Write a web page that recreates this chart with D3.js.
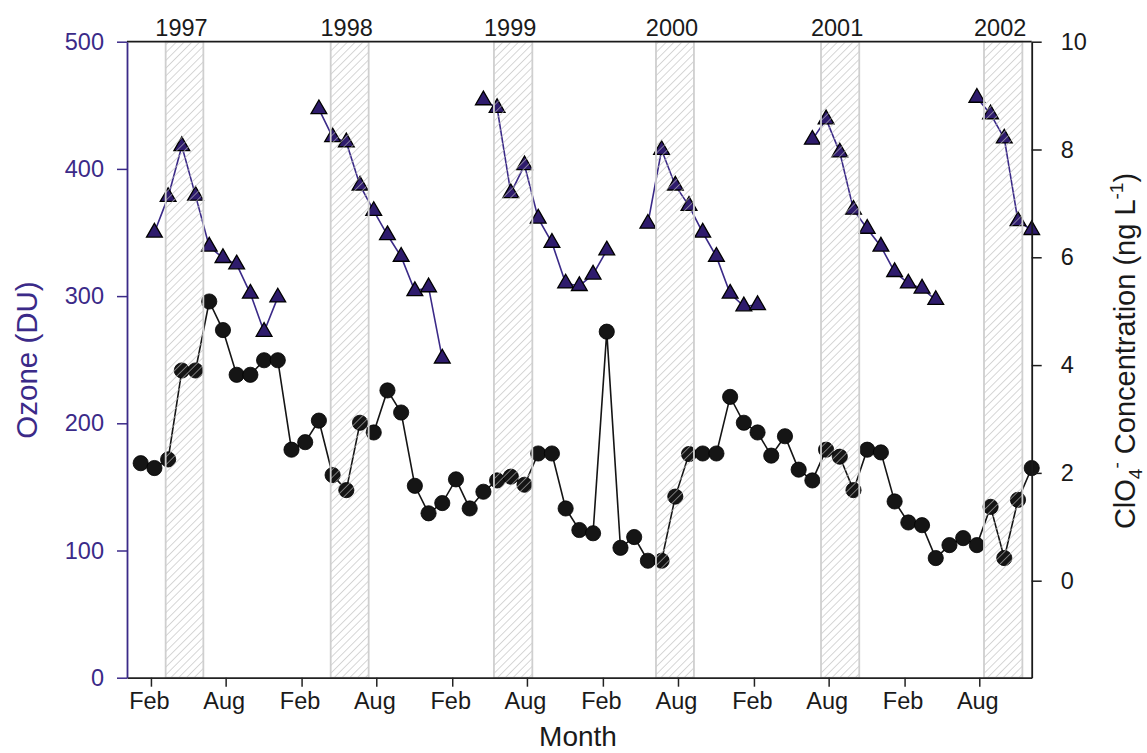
<!DOCTYPE html>
<html>
<head>
<meta charset="utf-8">
<script src="https://cdn.jsdelivr.net/npm/d3@7"></script>
<style>
  html, body { margin: 0; padding: 0; background: #ffffff; }
  svg { display: block; font-family: "Liberation Sans", Arial, sans-serif; }
</style>
</head>
<body>
<svg id="chart" width="1147" height="753"></svg>
<script>
// Monthly samples, index 0 = first month of the record (66 months)
const perchlorate = [
  2.18, 2.09, 2.25, 3.90, 3.90, 5.18, 4.65, 3.82, 3.82, 4.09, 4.09, 2.43,
  2.57, 2.97, 1.96, 1.68, 2.93, 2.75, 3.53, 3.12, 1.76, 1.25, 1.44, 1.88,
  1.34, 1.65, 1.86, 1.93, 1.78, 2.36, 2.36, 1.34, 0.94, 0.88, 4.62, 0.61,
  0.81, 0.37, 0.37, 1.56, 2.35, 2.36, 2.36, 3.41, 2.93, 2.75, 2.32, 2.68,
  2.06, 1.86, 2.43, 2.30, 1.68, 2.43, 2.38, 1.47, 1.08, 1.03, 0.42, 0.66,
  0.79, 0.66, 1.37, 0.42, 1.50, 2.09
];

// Total column ozone (DU), null where no value was recorded
const ozone = [
  null, 350, 378, 418, 379, 339, 330, 325, 302, 272, 299, null,
  null, 447, 425, 421, 387, 367, 348, 331, 304, 307, 251, null,
  null, 454, 448, 381, 403, 361, 342, 310, 308, 317, 336, null,
  null, 357, 415, 387, 371, 350, 331, 302, 292, 293, null, null,
  null, 423, 439, 413, 368, 353, 339, 319, 310, 306, 297, null,
  null, 456, 443, 424, 359, 352
];

// Shaded seasons (in month-index units) and their year labels
const seasonYears = ["1997", "1998", "1999", "2000", "2001", "2002"];
const seasonStart = [1.82, 13.86, 25.77, 37.59, 49.63, 61.52];
const seasonEnd   = [4.57, 16.63, 28.57, 40.36, 52.42, 64.32];

// Month axis ticks
const monthTicks = [
  "1997-02-01", "1997-08-01", "1998-02-01", "1998-08-01", "1999-02-01", "1999-08-01",
  "2000-02-01", "2000-08-01", "2001-02-01", "2001-08-01", "2002-02-01", "2002-08-01"
];
const ozoneTicks = [0, 100, 200, 300, 400, 500];
const clo4Ticks = [0, 2, 4, 6, 8, 10];

const purple = "#3b2a88";
const triFill = "#2e1b6c";

const svg = d3.select("#chart");
const L = 127, R = 1031.7, T = 41.7, B = 677.7;

const x = d3.scaleLinear().domain([-1, 65]).range([L, R]);
const xMonth = d3.scaleTime()
  .domain([new Date(1996, 11, 5), new Date(2002, 11, 6)])
  .range([L, R]);
const yOz = d3.scaleLinear().domain([0, 500]).range([B, T]);
const yCl = d3.scaleLinear().domain([-1.8, 10]).range([B, T]);

// hatch pattern for the shaded seasons
const defs = svg.append("defs");
defs.append("pattern")
  .attr("id", "hatch")
  .attr("patternUnits", "userSpaceOnUse")
  .attr("width", 5.5).attr("height", 5.5)
  .attr("patternTransform", "rotate(45)")
  .append("line")
  .attr("x1", 0).attr("y1", 0).attr("x2", 0).attr("y2", 5.5)
  .attr("stroke", "#bcbcbc").attr("stroke-width", 1.2);

// perchlorate series
const clLine = d3.line().x((d, i) => x(i)).y(d => yCl(d));
svg.append("path")
  .datum(perchlorate)
  .attr("d", clLine)
  .attr("fill", "none").attr("stroke", "#151515").attr("stroke-width", 1.6);
svg.append("g").selectAll("circle")
  .data(perchlorate)
  .join("circle")
  .attr("cx", (d, i) => x(i))
  .attr("cy", d => yCl(d))
  .attr("r", 7.6)
  .attr("fill", "#151515").attr("stroke", "#000").attr("stroke-width", 0.8);

// ozone series
const ozLine = d3.line().defined(d => d !== null).x((d, i) => x(i)).y(d => yOz(d));
svg.append("path")
  .datum(ozone)
  .attr("d", ozLine)
  .attr("fill", "none").attr("stroke", purple).attr("stroke-width", 1.6);
const tri = d3.symbol().type(d3.symbolTriangle).size(108);
svg.append("g").selectAll("path")
  .data(ozone.map((v, i) => ({ v, i })).filter(d => d.v !== null))
  .join("path")
  .attr("d", tri)
  .attr("transform", d => `translate(${x(d.i)},${yOz(d.v)})`)
  .attr("fill", triFill).attr("stroke", "#000").attr("stroke-width", 1.3)
  .attr("stroke-linejoin", "miter");

// shaded seasons drawn over the data
const seasons = seasonYears.map((y, k) => ({ y, s: seasonStart[k], e: seasonEnd[k] }));
svg.append("g").selectAll("rect")
  .data(seasons)
  .join("rect")
  .attr("x", d => x(d.s))
  .attr("y", T)
  .attr("width", d => x(d.e) - x(d.s))
  .attr("height", B - T)
  .attr("fill", "url(#hatch)")
  .attr("stroke", "#cfcfcf").attr("stroke-width", 1.8);

svg.append("g").selectAll("text")
  .data(seasons)
  .join("text")
  .attr("x", d => (x(d.s) + x(d.e)) / 2 - 3)
  .attr("y", 35.5)
  .attr("text-anchor", "middle")
  .attr("font-size", 23.5)
  .attr("fill", "#1a1a1a")
  .text(d => d.y);

// frame: top line
svg.append("line")
  .attr("x1", L).attr("x2", R).attr("y1", T).attr("y2", T)
  .attr("stroke", "#1a1a1a").attr("stroke-width", 1.8);

// bottom (month) axis
const gx = svg.append("g")
  .attr("transform", `translate(0,${B})`)
  .call(d3.axisBottom(xMonth)
    .tickValues(monthTicks.map(s => new Date(s + "T00:00:00")))
    .tickFormat(d3.timeFormat("%b"))
    .tickSize(9).tickPadding(6).tickSizeOuter(0));
gx.select(".domain").attr("stroke", "#222").attr("stroke-width", 1.8);
gx.selectAll(".tick line").attr("stroke", "#222").attr("stroke-width", 1.5);
gx.selectAll(".tick text").attr("font-size", 23.5).attr("fill", "#1a1a1a")
  .attr("font-family", "'Liberation Sans', Arial, sans-serif").attr("dx", -2);

// left (ozone) axis
const gl = svg.append("g")
  .attr("transform", `translate(${L},0)`)
  .call(d3.axisLeft(yOz).tickValues(ozoneTicks).tickSize(10).tickPadding(13).tickSizeOuter(0));
gl.select(".domain").attr("stroke", purple).attr("stroke-width", 1.8);
gl.selectAll(".tick line").attr("stroke", purple).attr("stroke-width", 1.5);
gl.selectAll(".tick text").attr("font-size", 23.5).attr("fill", purple)
  .attr("font-family", "'Liberation Sans', Arial, sans-serif");

// right (perchlorate) axis
const gr = svg.append("g")
  .attr("transform", `translate(${R},0)`)
  .call(d3.axisRight(yCl).tickValues(clo4Ticks).tickSize(10).tickPadding(19).tickSizeOuter(0));
gr.select(".domain").attr("stroke", "#1a1a1a").attr("stroke-width", 1.8);
gr.selectAll(".tick line").attr("stroke", "#1a1a1a").attr("stroke-width", 1.5);
gr.selectAll(".tick text").attr("font-size", 23.5).attr("fill", "#1a1a1a")
  .attr("font-family", "'Liberation Sans', Arial, sans-serif");

// axis titles
svg.append("text")
  .attr("x", 578).attr("y", 746)
  .attr("text-anchor", "middle")
  .attr("font-size", 28)
  .attr("fill", "#1a1a1a")
  .text("Month");

svg.append("text")
  .attr("transform", "translate(36.5,360) rotate(-90)")
  .attr("text-anchor", "middle")
  .attr("font-size", 29.5)
  .attr("fill", purple)
  .text("Ozone (DU)");

const rt = svg.append("text")
  .attr("transform", "translate(1135,351) rotate(-90)")
  .attr("text-anchor", "middle")
  .attr("font-size", 29)
  .attr("fill", "#1a1a1a");
rt.append("tspan").text("ClO");
rt.append("tspan").attr("font-size", 19).attr("dy", 7).text("4");
rt.append("tspan").attr("font-size", 19).attr("dy", -19).text("-");
rt.append("tspan").attr("dy", 12).text(" Concentration (ng L");
rt.append("tspan").attr("font-size", 19).attr("dy", -12).text("-1");
rt.append("tspan").attr("dy", 12).text(")");
</script>
</body>
</html>
